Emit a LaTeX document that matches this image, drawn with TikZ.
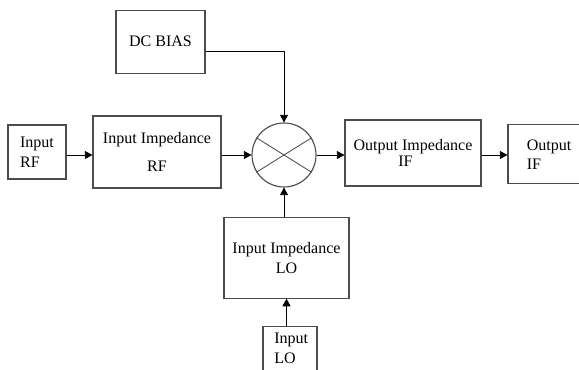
\documentclass[tikz,border=0pt]{standalone}
\usepackage{fontspec}
\setmainfont{Liberation Serif}
\usetikzlibrary{calc,arrows.meta}

\tikzset{
  blk/.style={draw=black!70, line width=0.8pt, inner sep=0pt, align=left},
  sig/.style={line width=0.6pt, -{Triangle[length=1.9mm,width=2mm]}}
}

\begin{document}
\begin{tikzpicture}[font=\fontsize{11.4}{14.2}\selectfont]
  \useasboundingbox (0,0) rectangle (14.475,-9.25);

  % blocks
  \node[blk, minimum width=2.225cm, minimum height=1.575cm] (dc) at (4.0125,-1.04) {DC BIAS};
  \node[blk, minimum width=1.45cm, minimum height=1.35cm] (inrf) at (0.925,-3.8) {Input\\RF};
  \node[blk, align=center, minimum width=3.2cm, minimum height=1.8cm] (inimp) at (3.925,-3.8) {Input Impedance\\[0.22cm]RF};
  \node[draw=black!70, line width=0.8pt, circle, minimum size=1.6cm, inner sep=0pt] (mix) at (7.1,-3.875) {};
  \draw[black!70, line width=0.6pt] (mix.148) -- (mix.-32);
  \draw[black!70, line width=0.6pt] (mix.32) -- (mix.212);
  \node[blk, minimum width=3.4cm, minimum height=1.65cm] (outimp) at (10.325,-3.825) {Output Impedance\\[-0.08cm]\hspace*{1.12cm}IF};
  \node[blk, minimum width=2.05cm, minimum height=1.475cm] (outif) at (13.725,-3.86) {Output\\[-0.03cm]IF};
  \node[blk, align=center, minimum width=3.125cm, minimum height=2.025cm] (loimp) at (7.1625,-6.44) {Input Impedance\\LO};
  \node[blk, minimum width=1.35cm, minimum height=1.6cm, anchor=north] (inlo) at (7.25,-8.15) {};
  \node[align=left, inner sep=0pt] (inlotxt) at ($(inlo.north)+(0.03,-0.55)$) {Input\\LO};

  % signal path
  \draw[sig] (inrf.east |- mix) -- (inimp.west |- mix);
  \draw[sig] (inimp.east |- mix) -- (mix.west);
  \draw[sig] (mix.east) -- (outimp.west |- mix);
  \draw[sig] (outimp.east |- mix) -- (outif.west |- mix);
  \draw[sig] ([yshift=-0.24cm]dc.east) -| (mix.north);
  \draw[sig] (loimp.north -| mix) -- (mix.south);
  \draw[sig] (inlo.north -| loimp) -- (loimp.south);
\end{tikzpicture}
\end{document}
